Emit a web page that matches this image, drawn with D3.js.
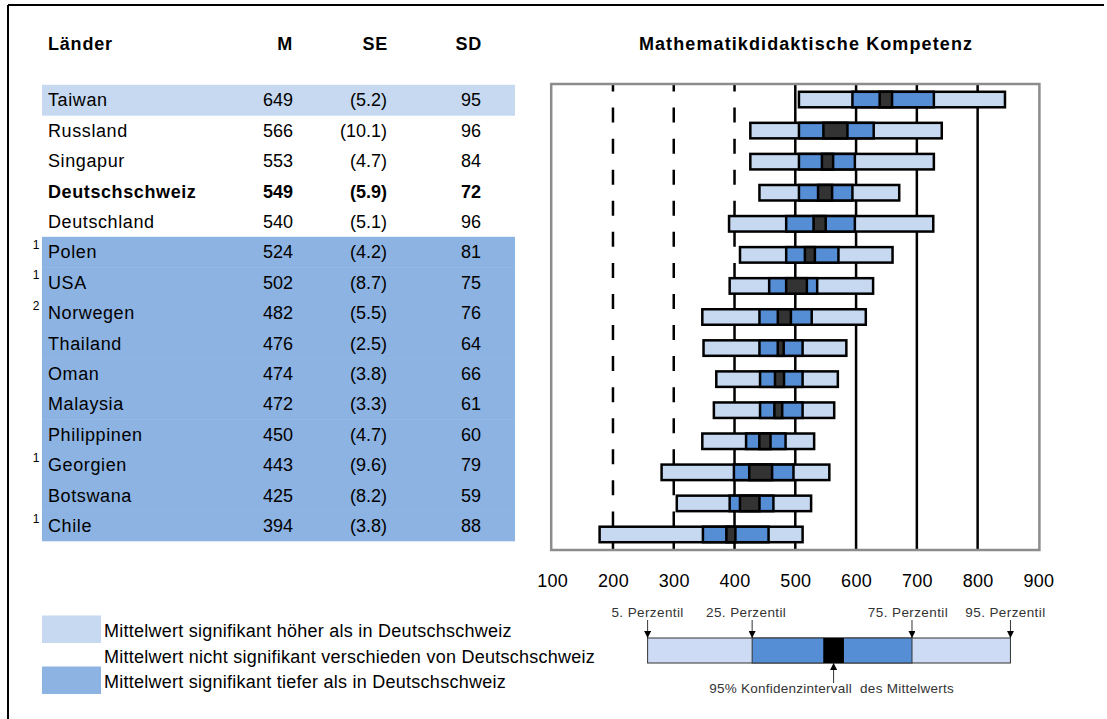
<!DOCTYPE html>
<html><head><meta charset="utf-8">
<script src="https://cdn.jsdelivr.net/npm/d3@7"></script>
<style>body{margin:0;background:#fff}svg{display:block}text{font-family:"Liberation Sans",Arial,sans-serif}</style>
</head><body><svg id="c" width="1107" height="719"></svg>
<script>
const countries=["Taiwan","Russland","Singapur","Deutschschweiz","Deutschland","Polen","USA","Norwegen","Thailand","Oman","Malaysia","Philippinen","Georgien","Botswana","Chile"];
const footnotes=["","","","","","1","1","2","","","","","1","","1"];
const groups=["higher","same","same","ref","same","lower","lower","lower","lower","lower","lower","lower","lower","lower","lower"];
const meanM=[649,566,553,549,540,524,502,482,476,474,472,450,443,425,394];
const seM=[5.2,10.1,4.7,5.9,5.1,4.2,8.7,5.5,2.5,3.8,3.3,4.7,9.6,8.2,3.8];
const seLabels=["(5.2)","(10.1)","(4.7)","(5.9)","(5.1)","(4.2)","(8.7)","(5.5)","(2.5)","(3.8)","(3.3)","(4.7)","(9.6)","(8.2)","(3.8)"];
const sdM=[95,96,84,72,96,81,75,76,64,66,61,60,79,59,88];
const p5=[506,426,426,441,391,409,392,347,349,370,366,347,280,305,178];
const p25=[594,506,506,506,485,485,457,441,441,442,442,419,399,392,348];
const p75=[728,629,598,594,598,571,536,527,512,512,512,484,497,464,456];
const p95=[845,741,728,671,727,660,628,616,584,570,564,531,556,526,512];
const xTicks=[100,200,300,400,500,600,700,800,900];
const dashedTicks=[200,300,400];
const solidTicks=[500,600,700,800];
const keyValues=[257,429,546,580,692,854]; // p5,p25,ciLow,ciHigh,p75,p95 of schematic
const keyLabels=["5. Perzentil","25. Perzentil","75. Perzentil","95. Perzentil"];
const legendItems=[{g:"higher",t:"Mittelwert signifikant höher als in Deutschschweiz"},{g:"same",t:"Mittelwert nicht signifikant verschieden von Deutschschweiz"},{g:"lower",t:"Mittelwert signifikant tiefer als in Deutschschweiz"}];

const C={light:"#c6d9f1",mid:"#558ed5",ci:"#333333",rowHigh:"#c6d9f1",rowLow:"#8db3e2"};
const groupFill={higher:C.rowHigh,lower:C.rowLow,same:"none",ref:"none"};
const svg=d3.select("#c");
const FS=18;

// outer border (top + left)
svg.append("line").attr("x1",8).attr("x2",1104).attr("y1",5).attr("y2",5).attr("stroke","#000").attr("stroke-width",2);
svg.append("line").attr("x1",8).attr("x2",8).attr("y1",5).attr("y2",719).attr("stroke","#000").attr("stroke-width",2);

// ---------- table ----------
const idx=d3.range(countries.length);
const yT=d3.scaleBand().domain(idx).range([84.8,540.8]);
const tbl=svg.append("g");
tbl.selectAll("rect.row").data(idx).join("rect").attr("class","row")
  .attr("x",42).attr("width",473).attr("y",i=>yT(i)).attr("height",yT.bandwidth()+0.5)
  .attr("fill",i=>groupFill[groups[i]]);
const headY=50;
tbl.append("text").attr("x",48).attr("y",headY).attr("font-weight","bold").attr("font-size",FS).attr("letter-spacing",0.8).text("Länder");
[["M",293],["SE",388],["SD",482]].forEach(([t,x])=>tbl.append("text").attr("x",x).attr("y",headY).attr("text-anchor","end").attr("font-weight","bold").attr("font-size",FS).attr("letter-spacing",0.8).text(t));
const rows=tbl.selectAll("g.r").data(idx).join("g").attr("class","r")
  .attr("transform",i=>`translate(0,${yT(i)+yT.bandwidth()/2})`)
  .attr("font-size",FS).attr("font-weight",i=>groups[i]==="ref"?"bold":"normal");
rows.append("text").attr("x",48).attr("dy","0.35em").attr("letter-spacing",0.6).text(i=>countries[i]);
rows.append("text").attr("x",293).attr("dy","0.35em").attr("text-anchor","end").text(i=>meanM[i]);
rows.append("text").attr("x",387).attr("dy","0.35em").attr("text-anchor","end").text(i=>seLabels[i]);
rows.append("text").attr("x",481).attr("dy","0.35em").attr("text-anchor","end").text(i=>sdM[i]);
rows.append("text").attr("x",39.5).attr("dy","-0.25em").attr("text-anchor","end").attr("font-size",12).attr("font-weight","normal").text(i=>footnotes[i]);

// ---------- chart ----------
const x=d3.scaleLinear().domain([100,900]).range([552.2,1038.4]);
const yC=d3.scaleBand().domain(idx).range([84,550]);
const step=yC.step();
const bh=15.5;
svg.append("text").attr("x",806).attr("y",headY).attr("text-anchor","middle").attr("font-weight","bold").attr("font-size",FS).attr("letter-spacing",1.1).text("Mathematikdidaktische Kompetenz");

const grid=svg.append("g").attr("stroke","#000").attr("stroke-width",2.5);
const dashLen=15;
grid.selectAll("line.d").data(dashedTicks).join("line").attr("class","d")
  .attr("x1",d=>x(d)).attr("x2",d=>x(d)).attr("y1",84).attr("y2",550)
  .attr("stroke-dasharray",`${dashLen} ${step-dashLen}`).attr("stroke-dashoffset",dashLen/2);
grid.selectAll("line.s").data(solidTicks).join("line").attr("class","s")
  .attr("x1",d=>x(d)).attr("x2",d=>x(d)).attr("y1",84).attr("y2",550);

const bars=svg.append("g").attr("stroke","#000").attr("stroke-width",2.5);
const by=i=>yC(i)+step/2-bh/2;
bars.selectAll("rect.p").data(idx).join("rect").attr("class","p")
  .attr("x",i=>x(p5[i])).attr("width",i=>x(p95[i])-x(p5[i])).attr("y",by).attr("height",bh).attr("fill",C.light);
bars.selectAll("rect.q").data(idx).join("rect").attr("class","q")
  .attr("x",i=>x(p25[i])).attr("width",i=>x(p75[i])-x(p25[i])).attr("y",by).attr("height",bh).attr("fill",C.mid);
bars.selectAll("rect.ci").data(idx).join("rect").attr("class","ci")
  .attr("x",i=>x(meanM[i]-1.96*seM[i])).attr("width",i=>x(meanM[i]+1.96*seM[i])-x(meanM[i]-1.96*seM[i])).attr("y",by).attr("height",bh).attr("fill",C.ci);

// frame
svg.append("rect").attr("x",x(100)-1).attr("y",84).attr("width",x(900)-x(100)+2).attr("height",466)
  .attr("fill","none").attr("stroke","#8c8c8c").attr("stroke-width",2.5);

// axis labels
const ax=svg.append("g").attr("transform","translate(0,550)")
  .call(d3.axisBottom(x).tickValues(xTicks).tickSize(0).tickPadding(24).tickFormat(d3.format("d")));
ax.select(".domain").remove();
ax.selectAll("text").attr("font-size",FS).attr("fill","#000").attr("letter-spacing",0.3).attr("font-family","Liberation Sans, Arial, sans-serif");

// ---------- legend ----------
const lg=svg.append("g");
const ly=[631,657,682];
legendItems.forEach((d,i)=>{
  if(groupFill[d.g]!=="none") lg.append("rect").attr("x",42).attr("y",ly[i]-15.5).attr("width",59).attr("height",27.5).attr("fill",groupFill[d.g]);
  lg.append("text").attr("x",104).attr("y",ly[i]).attr("dy","0.35em").attr("font-size",FS).attr("letter-spacing",0.25).text(d.t);
});

// ---------- key schematic ----------
const kg=svg.append("g");
const ky0=638,kh=25;
const defs=svg.append("defs");
defs.append("marker").attr("id","ah").attr("viewBox","0 0 10 10").attr("refX",10).attr("refY",5)
  .attr("markerWidth",7).attr("markerHeight",7).attr("markerUnits","userSpaceOnUse").attr("orient","auto")
  .append("path").attr("d","M0,0L10,5L0,10Z").attr("fill","#000");
kg.append("rect").attr("x",x(keyValues[0])).attr("width",x(keyValues[5])-x(keyValues[0])).attr("y",ky0).attr("height",kh).attr("fill","#cddcf4").attr("stroke","#333").attr("stroke-width",1);
kg.append("rect").attr("x",x(keyValues[1])).attr("width",x(keyValues[4])-x(keyValues[1])).attr("y",ky0).attr("height",kh).attr("fill",C.mid).attr("stroke","#333").attr("stroke-width",1);
kg.append("rect").attr("x",x(keyValues[2])).attr("width",x(keyValues[3])-x(keyValues[2])).attr("y",ky0).attr("height",kh).attr("fill","#000");
const arrowVals=[keyValues[0],keyValues[1],keyValues[4],keyValues[5]];
const labelShift=[0,-6,-4,-5];
arrowVals.forEach((v,i)=>{
  kg.append("line").attr("x1",x(v)).attr("x2",x(v)).attr("y1",620).attr("y2",ky0).attr("stroke","#333").attr("stroke-width",1).attr("marker-end","url(#ah)");
  kg.append("text").attr("x",x(v)+labelShift[i]).attr("y",617).attr("text-anchor","middle").attr("font-size",13.5).attr("letter-spacing",0.4).attr("fill","#333").text(keyLabels[i]);
});
const ciMid=(keyValues[2]+keyValues[3])/2;
kg.append("line").attr("x1",x(ciMid)).attr("x2",x(ciMid)).attr("y1",683).attr("y2",ky0+kh).attr("stroke","#333").attr("stroke-width",1).attr("marker-end","url(#ah)");
kg.append("text").attr("x",x(ciMid)-2).attr("y",693).attr("text-anchor","middle").attr("font-size",13.5).attr("letter-spacing",0.25).attr("fill","#333").text("95% Konfidenzintervall  des Mittelwerts").style("white-space","pre");
</script></body></html>
